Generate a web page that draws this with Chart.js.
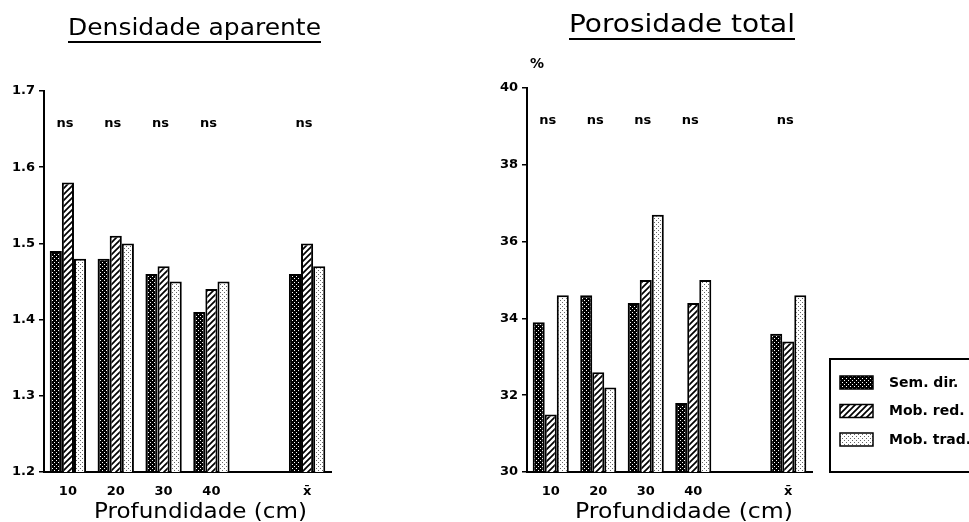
<!DOCTYPE html>
<html lang="pt">
<head>
<meta charset="UTF-8">
<title>Densidade aparente e porosidade total</title>
<script src="https://cdn.jsdelivr.net/npm/chart.js"></script>
<style>
  body { margin: 0; background: #fff; }
  #wrap { position: relative; width: 969px; height: 522px; overflow: hidden; }
  canvas { position: absolute; top: 0; }
  #densChart { left: 0; }
  #poroChart { left: 480px; }
</style>
</head>
<body>
<div id="wrap">
  <canvas id="densChart" width="480" height="522"></canvas>
  <canvas id="poroChart" width="489" height="522"></canvas>
</div>
<script>
const depths = ["10", "20", "30", "40", "", "x\u0304"];
const treatments = ["Sem. dir.", "Mob. red.", "Mob. trad."];
const signif = ["ns", "ns", "ns", "ns", "", "ns"];

// Densidade aparente
const densSemDir = [1.49, 1.48, 1.46, 1.41, null, 1.46];
const densMobRed = [1.58, 1.51, 1.47, 1.44, null, 1.50];
const densMobTrad = [1.48, 1.50, 1.45, 1.45, null, 1.47];

// Porosidade total (%)
const poroSemDir = [33.9, 34.6, 34.4, 31.8, null, 33.6];
const poroMobRed = [31.5, 32.6, 35.0, 34.4, null, 33.4];
const poroMobTrad = [34.6, 32.2, 36.7, 35.0, null, 34.6];

const FONT = "'DejaVu Sans'";

function makePattern(size, paint) {
  const c = document.createElement("canvas");
  c.width = c.height = size;
  const g = c.getContext("2d");
  paint(g, size);
  return g.createPattern(c, "repeat");
}

// black with white dots
const fillDark = makePattern(4, (g) => {
  g.fillStyle = "#000"; g.fillRect(0, 0, 4, 4);
  g.fillStyle = "#fff"; g.fillRect(0, 0, 1, 1); g.fillRect(2, 2, 1, 1);
});
// diagonal stripes
const fillHatch = makePattern(6, (g, s) => {
  g.fillStyle = "#fff"; g.fillRect(0, 0, s, s);
  g.strokeStyle = "#000"; g.lineWidth = 1.7;
  g.beginPath();
  g.moveTo(-1, s + 1); g.lineTo(s + 1, -1);
  g.moveTo(-1, 1); g.lineTo(1, -1);
  g.moveTo(s - 1, s + 1); g.lineTo(s + 1, s - 1);
  g.stroke();
});
// light stipple
const fillDots = makePattern(4, (g) => {
  g.fillStyle = "#fff"; g.fillRect(0, 0, 4, 4);
  g.fillStyle = "#666"; g.fillRect(0, 0, 1, 1); g.fillRect(2, 2, 1, 1);
});
const fills = [fillDark, fillHatch, fillDots];

function makeDatasets(series) {
  return series.map((d, i) => ({
    label: treatments[i],
    data: d,
    backgroundColor: fills[i],
    borderColor: "#000",
    borderWidth: 2,
    categoryPercentage: 0.76,
    barPercentage: 1.0
  }));
}

function makeScales(min, max, step, axisW, fmt) {
  return {
    x: {
      grid: { display: false, drawTicks: false },
      border: { display: true, color: "#000", width: 2 },
      ticks: { color: "#000", font: { family: FONT, size: 13, weight: "bold" }, padding: 12, autoSkip: false, maxRotation: 0 },
      afterFit(s) { s.height = 50; }
    },
    y: {
      min: min, max: max,
      grid: { display: true, drawOnChartArea: false, drawTicks: true, tickLength: 5, color: "#000", lineWidth: 1.5 },
      border: { display: true, color: "#000", width: 2 },
      ticks: { stepSize: step, color: "#000", font: { family: FONT, size: 13, weight: "bold" }, padding: 4, callback: fmt },
      afterFit(s) { s.width = axisW; }
    }
  };
}

// draw text at a given size, stretched horizontally to the given width
function stretchText(ctx, text, x, y, size, width) {
  ctx.font = size + "px " + FONT;
  const k = width / ctx.measureText(text).width;
  ctx.save();
  ctx.translate(x, y);
  ctx.scale(k, 1);
  ctx.fillText(text, 0, 0);
  ctx.restore();
}

function decor(cfg) {
  return {
    id: "decor",
    afterDraw(chart) {
      const ctx = chart.ctx, area = chart.chartArea, xs = chart.scales.x;
      ctx.save();
      ctx.fillStyle = "#000";
      ctx.strokeStyle = "#000";
      ctx.textAlign = "left";
      ctx.textBaseline = "alphabetic";

      // underlined title
      stretchText(ctx, cfg.title, cfg.titleX, cfg.titleY, cfg.titleSize, cfg.titleW);
      ctx.lineWidth = 2;
      ctx.beginPath();
      ctx.moveTo(cfg.titleX, cfg.titleY + 7);
      ctx.lineTo(cfg.titleX + cfg.titleW, cfg.titleY + 7);
      ctx.stroke();

      // x axis title
      stretchText(ctx, "Profundidade (cm)", cfg.axisX, 518, 22, cfg.axisW);

      // significance marks above each group
      ctx.font = "bold 13px " + FONT;
      ctx.textAlign = "center";
      ctx.textBaseline = "middle";
      signif.forEach((s, i) => {
        if (s) ctx.fillText(s, xs.getPixelForValue(i) - 3, area.top + 33);
      });

      if (cfg.unit) {
        ctx.font = "bold 14px " + FONT;
        ctx.fillText(cfg.unit, area.left + 10, area.top - 24);
      }

      if (cfg.legend) {
        const left = area.right + 18, top = area.bottom - 113;
        ctx.lineWidth = 2;
        ctx.strokeRect(left, top, 200, 113);
        ctx.font = "bold 14px " + FONT;
        ctx.textAlign = "left";
        chart.data.datasets.forEach((ds, i) => {
          const y = top + 23 + i * 28.5;
          ctx.fillStyle = ds.backgroundColor;
          ctx.fillRect(left + 10, y - 6, 33, 13);
          ctx.lineWidth = 1.5;
          ctx.strokeRect(left + 10, y - 6, 33, 13);
          ctx.fillStyle = "#000";
          ctx.fillText(ds.label, left + 59, y + 1);
        });
      }
      ctx.restore();
    }
  };
}

new Chart(document.getElementById("densChart"), {
  type: "bar",
  data: { labels: depths, datasets: makeDatasets([densSemDir, densMobRed, densMobTrad]) },
  options: {
    responsive: false,
    animation: false,
    layout: { padding: { top: 91, right: 149, bottom: 0, left: 0 } },
    plugins: { legend: { display: false }, tooltip: { enabled: false } },
    scales: makeScales(1.2, 1.7, 0.1, 44, (v) => v.toFixed(1))
  },
  plugins: [decor({ title: "Densidade aparente", titleX: 68, titleY: 35, titleSize: 23, titleW: 253, axisX: 94, axisW: 213 })]
});

new Chart(document.getElementById("poroChart"), {
  type: "bar",
  data: { labels: depths, datasets: makeDatasets([poroSemDir, poroMobRed, poroMobTrad]) },
  options: {
    responsive: false,
    animation: false,
    layout: { padding: { top: 88, right: 157, bottom: 0, left: 0 } },
    plugins: { legend: { display: false }, tooltip: { enabled: false } },
    scales: makeScales(30, 40, 2, 47, (v) => String(v))
  },
  plugins: [decor({ title: "Porosidade total", titleX: 89, titleY: 32, titleSize: 24, titleW: 226, axisX: 95, axisW: 218, unit: "%", legend: true })]
});
</script>
</body>
</html>
